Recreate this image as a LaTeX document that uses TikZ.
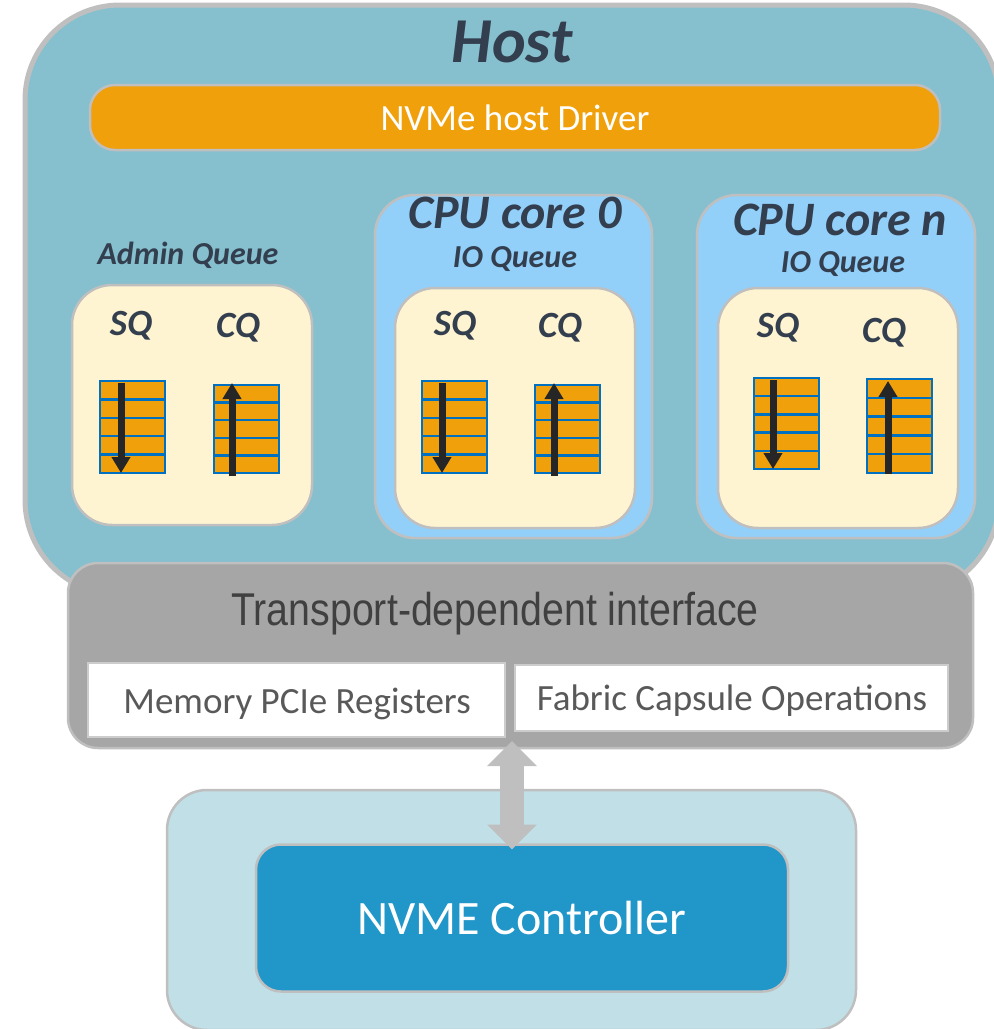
\documentclass[tikz,border=0pt]{standalone}
\usepackage{fontspec}
\setmainfont{Carlito}
\newfontfamily\arialfont{Liberation Sans}
\usetikzlibrary{arrows.meta,calc}

\definecolor{hostfill}{HTML}{86C0CE}
\definecolor{edgegray}{HTML}{BFBFBF}
\definecolor{driverorange}{HTML}{F0A00A}
\definecolor{corefill}{HTML}{92D0FA}
\definecolor{creamfill}{HTML}{FFF4D1}
\definecolor{ifacegray}{HTML}{A6A6A6}
\definecolor{ctrlouter}{HTML}{C0DFE6}
\definecolor{ctrlinner}{HTML}{2196C9}
\definecolor{cellblue}{HTML}{0070C0}
\definecolor{labeltext}{HTML}{333F4F}
\definecolor{ifacetext}{HTML}{404040}
\definecolor{regtext}{HTML}{595959}
\definecolor{qarrow}{HTML}{262626}

\tikzset{
  panel/.style={draw=edgegray, line width=2.5pt, inner sep=0pt, outer sep=0pt},
  hostbox/.style={panel, fill=hostfill, line width=5pt, rounded corners=95pt},
  driverbar/.style={panel, fill=driverorange, rounded corners=25pt},
  corebox/.style={panel, fill=corefill, rounded corners=40pt},
  queuebox/.style={panel, fill=creamfill, rounded corners=40pt},
  ifacebox/.style={panel, fill=ifacegray, rounded corners=30pt},
  regbox/.style={panel, fill=white, draw=edgegray!80, line width=2pt},
  ctrlbox/.style={panel, fill=ctrlouter, rounded corners=40pt},
  ctrlcore/.style={panel, fill=ctrlinner, rounded corners=25pt},
  bigtitle/.style={font=\fontsize{64}{70}\selectfont\bfseries\itshape, text=labeltext, inner sep=0pt, anchor=base},
  coretitle/.style={font=\fontsize{48}{54}\selectfont\bfseries\itshape, text=labeltext, inner sep=0pt, anchor=base},
  qtitle/.style={font=\fontsize{32}{36}\selectfont\bfseries\itshape, text=labeltext, inner sep=0pt, anchor=base},
  sqcq/.style={font=\fontsize{37}{42}\selectfont\bfseries\itshape, text=labeltext, inner sep=0pt, anchor=base},
  regtextstyle/.style={inner sep=0pt, anchor=base, text=regtext, font=\fontsize{37}{42}\selectfont},
  qcell/.style={draw=cellblue, fill=driverorange, line width=2.5pt},
  qflow/.style={draw=qarrow, line width=7pt, -{Triangle[width=18pt,length=16pt]}},
  linkarrow/.style={draw=edgegray, line width=24pt, {Triangle[width=48pt,length=25pt]}-{Triangle[width=48pt,length=25pt]}}
}

% five stacked queue slots: #1 = left x, #2 = top y, #3 = bottom y
\newcommand\slotstack[3]{%
  \foreach \k in {0,...,4}{%
    \path[qcell] ({#1},{#2+\k*(#3-#2)/5}) rectangle ({#1+65},{#2+(\k+1)*(#3-#2)/5});
  }%
}

\begin{document}
\begin{tikzpicture}[x=1pt,y=-1pt]
\useasboundingbox (0,0) rectangle (994,1029);

% host side
\node[hostbox, minimum width=974pt, minimum height=590pt] (host) at (512,300) {};
\node[bigtitle] (hosttitle) at (512,62) {Host};
\node[driverbar, minimum width=850pt, minimum height=65pt,
      font=\fontsize{37}{42}\selectfont, text=white] (driver) at (515,117.5) {NVMe host Driver};

% admin queue
\node[qtitle] (admintitle) at (188,264) {Admin Queue};
\node[queuebox, minimum width=240pt, minimum height=240pt] (adminq) at (192,405) {};
\node[sqcq] (adminsq) at (131,335) {SQ};
\node[sqcq] (admincq) at (238,337) {CQ};
\slotstack{100}{381}{473}
\slotstack{214}{385}{473}
\coordinate (asqtop) at (121,383);
\coordinate (asqbot) at (121,473);
\coordinate (acqtop) at (232,383);
\coordinate (acqbot) at (232,476);
\draw[qflow] (asqtop) -- (asqbot);
\draw[qflow] (acqbot) -- (acqtop);

% CPU core 0
\node[corebox, minimum width=277pt, minimum height=343pt] (core0) at (513.5,366.5) {};
\node[coretitle] (core0title) at (515,228) {CPU core 0};
\node[qtitle] (core0io) at (515,267) {IO Queue};
\node[queuebox, minimum width=240pt, minimum height=240pt] (core0q) at (515,408) {};
\node[sqcq] (core0sq) at (455,335) {SQ};
\node[sqcq] (core0cq) at (560,337) {CQ};
\slotstack{422}{381}{473}
\slotstack{535}{385}{473}
\coordinate (c0sqtop) at (442,383);
\coordinate (c0sqbot) at (442,473);
\coordinate (c0cqtop) at (554,383);
\coordinate (c0cqbot) at (554,476);
\draw[qflow] (c0sqtop) -- (c0sqbot);
\draw[qflow] (c0cqbot) -- (c0cqtop);

% CPU core n
\node[corebox, minimum width=278pt, minimum height=343pt] (coren) at (836,366.5) {};
\node[coretitle] (corentitle) at (840,235) {CPU core n};
\node[qtitle] (corenio) at (843,272) {IO Queue};
\node[queuebox, minimum width=240pt, minimum height=240pt] (corenq) at (838,408) {};
\node[sqcq] (corensq) at (778,337) {SQ};
\node[sqcq] (corencq) at (884,342) {CQ};
\slotstack{754}{378}{469}
\slotstack{867}{379}{473}
\coordinate (cnsqtop) at (773,380);
\coordinate (cnsqbot) at (773,469);
\coordinate (cncqtop) at (888,381);
\coordinate (cncqbot) at (888,474);
\draw[qflow] (cnsqtop) -- (cnsqbot);
\draw[qflow] (cncqbot) -- (cncqtop);

% transport-dependent interface
\node[ifacebox, minimum width=905pt, minimum height=185pt] (iface) at (520.5,655.5) {};
\node[inner sep=0pt, anchor=base, text=ifacetext,
      font=\arialfont\fontsize{46}{50}\selectfont] (ifacetitle) at (495,625)
      {\scalebox{0.855}[1]{Transport-dependent interface}};
\node[regbox, minimum width=417pt, minimum height=74pt] (memregs) at (296.5,700) {};
\node[regtextstyle] (memtext) at (297,713) {Memory PCIe Registers};
\node[regbox, minimum width=433pt, minimum height=66pt] (capsule) at (731.5,698) {};
\node[regtextstyle] (capsuletext) at (732,710) {Fabric Capsule Operations};

% controller side
\node[ctrlbox, minimum width=689pt, minimum height=240pt] (ctrl) at (511.5,910) {};
\node[ctrlcore, minimum width=532pt, minimum height=147pt,
      font=\fontsize{48}{54}\selectfont, text=white] (ctrlcore) at (522,918) {NVME Controller};

% link between interface and controller
\coordinate (linktop) at (512,741);
\draw[linkarrow] (linktop) -- ($(linktop |- ctrlcore.north)+(0,5)$);
\end{tikzpicture}
\end{document}
